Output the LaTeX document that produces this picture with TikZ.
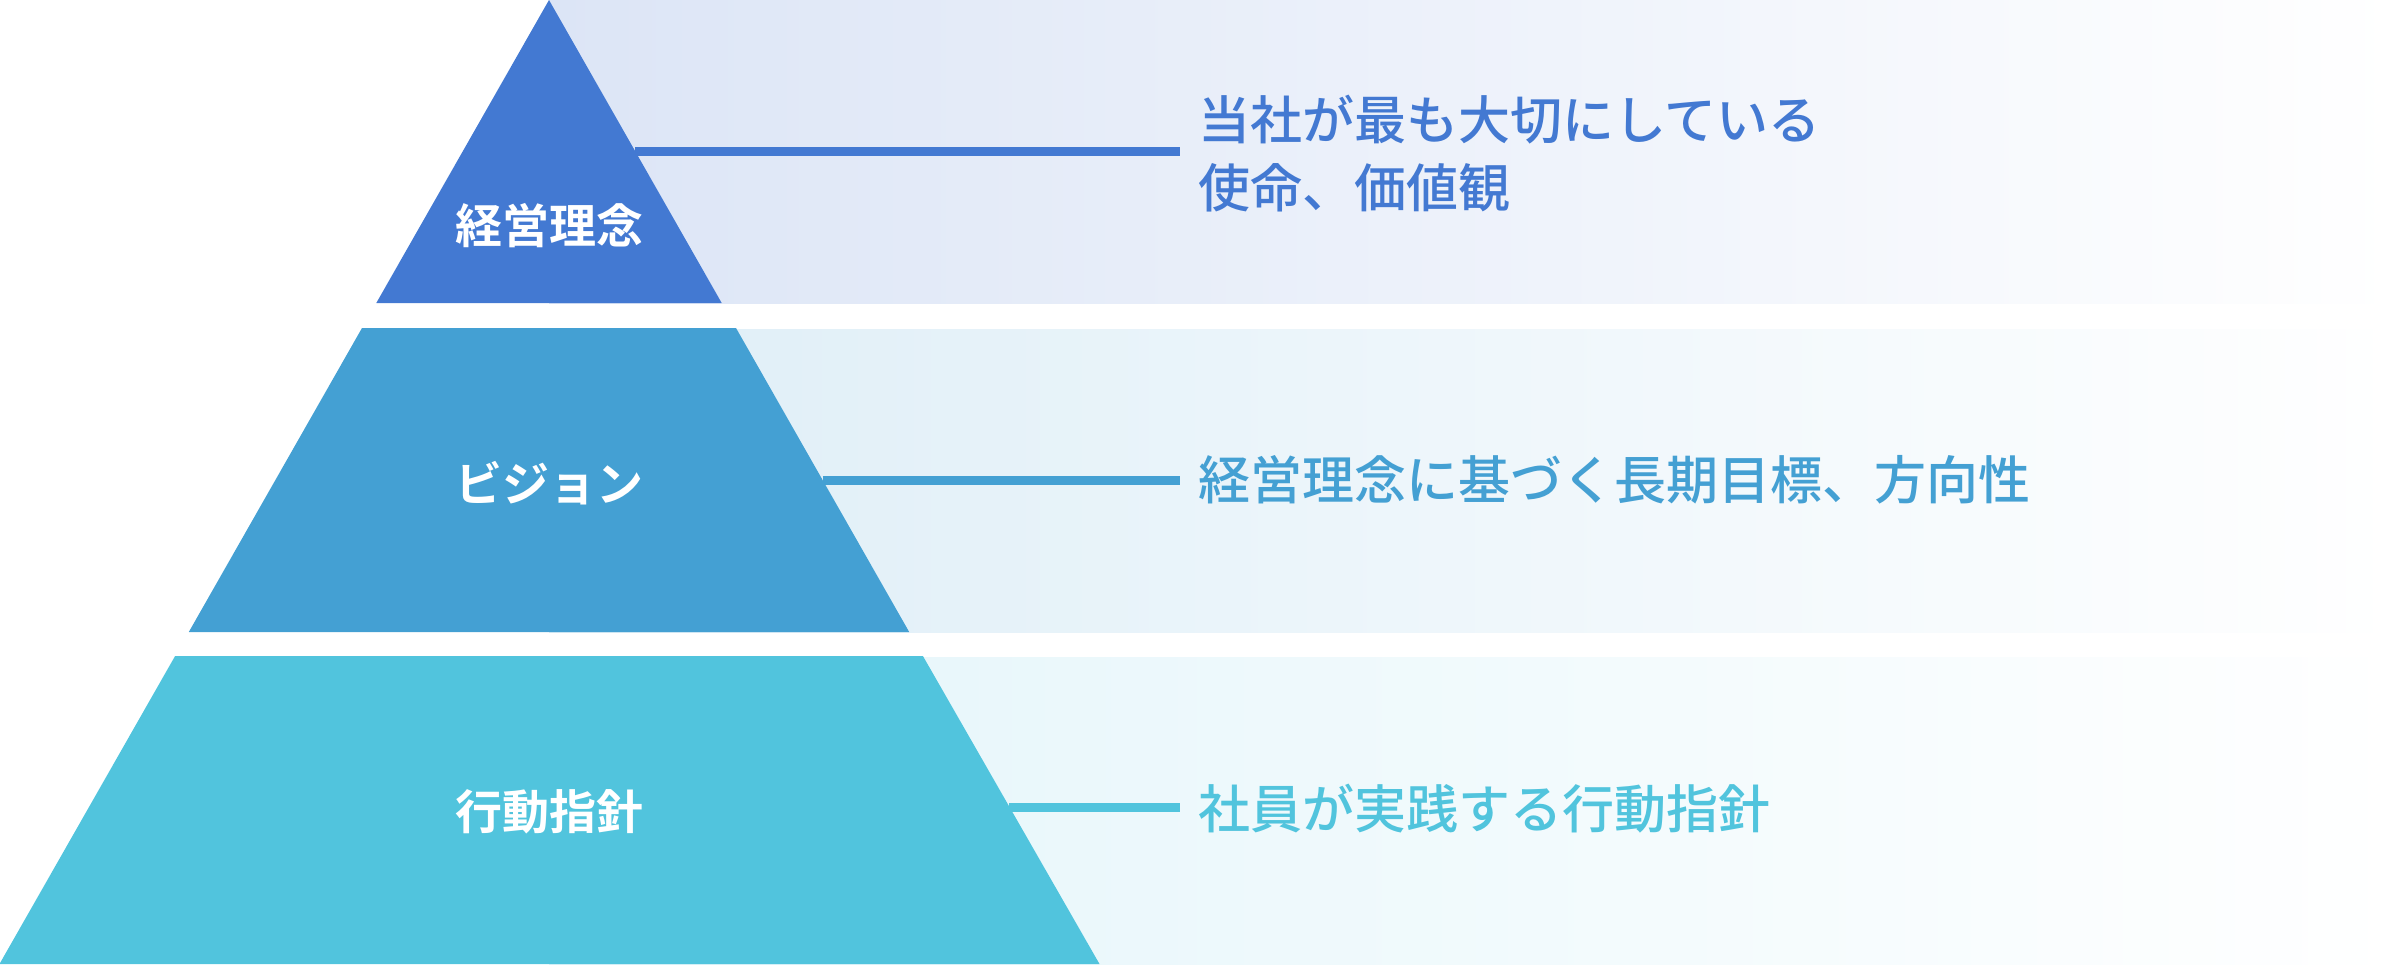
\documentclass[tikz,border=0pt]{standalone}
\usepackage{fontspec}
\newfontfamily\cjk{Noto Sans CJK JP Medium}
\newfontfamily\cjkb{Noto Sans CJK JP Bold}
\definecolor{cA}{HTML}{4379D2}
\definecolor{cB}{HTML}{44A0D3}
\definecolor{cC}{HTML}{51C4DD}
\definecolor{bgA}{HTML}{DCE5F6}
\definecolor{bgB}{HTML}{DEEEF7}
\definecolor{bgC}{HTML}{E3F5FA}
\tikzset{
  tierlabel/.style={text=white, font=\cjkb\fontsize{47}{50}\selectfont, inner sep=0pt},
  desc/.style={anchor=west, inner xsep=18pt, inner ysep=0pt, align=left,
    font=\cjk\fontsize{52}{68}\selectfont},
  conn/.style={line width=9pt},
}
\begin{document}
\begin{tikzpicture}[x=1pt,y=-1pt]
\useasboundingbox (0,0) rectangle (2400,964);
% background bands
\shade[left color=bgA, right color=white] (549,0) rectangle (2400,303);
\shade[left color=bgB, right color=white] (549,329) rectangle (2400,632);
\shade[left color=bgC, right color=white] (549,657) rectangle (2400,964);
% pyramid tiers
\fill[cA] (549,0) -- (721.7,303) -- (376.3,303) -- cycle;
\fill[cB] (362.0,328) -- (736.0,328) -- (909.2,632) -- (188.8,632) -- cycle;
\fill[cC] (175.1,656) -- (922.9,656) -- (1099.5,964) -- (-0.5,964) -- cycle;
% tier labels
\node[tierlabel] (l1) at (549,226) {経営理念};
\node[tierlabel] (l2) at (549,483) {ビジョン};
\node[tierlabel] (l3) at (549,812) {行動指針};
% connector start points on the pyramid edge
\coordinate (e1) at (635.4,151.5);
\coordinate (e2) at (822.6,480);
\coordinate (e3) at (1009.3,807.5);
% descriptions
\node[desc, text=cA] (t1) at (1180,154) {当社が最も大切にしている\\使命、価値観};
\node[desc, text=cB] (t2) at (1180,480) {経営理念に基づく長期目標、方向性};
\node[desc, text=cC] (t3) at (1180,809) {社員が実践する行動指針};
% connectors
\draw[conn, cA] (e1) -- (e1 -| t1.west);
\draw[conn, cB] (e2) -- (e2 -| t2.west);
\draw[conn, cC] (e3) -- (e3 -| t3.west);
\end{tikzpicture}
\end{document}
